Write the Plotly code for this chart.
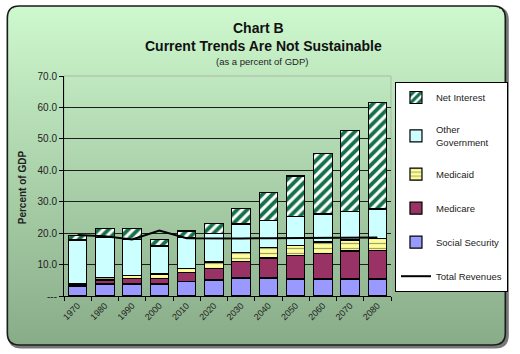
import plotly.graph_objects as go

# ---------------- data (percent of GDP) ----------------
years = ["1970", "1980", "1990", "2000", "2010", "2020",
         "2030", "2040", "2050", "2060", "2070", "2080"]
social_security = [3.2, 3.8, 3.8, 3.8, 4.5, 5.1, 5.7, 5.7, 5.4, 5.4, 5.4, 5.4]
medicare = [0.5, 1.3, 1.8, 1.8, 3.1, 3.6, 5.4, 6.4, 7.4, 8.2, 8.9, 9.2]
medicaid = [0.2, 0.7, 0.8, 1.4, 1.1, 2.1, 2.8, 3.3, 3.3, 3.6, 3.5, 3.7]
other_government = [13.9, 12.9, 11.6, 8.9, 10.0, 9.1, 9.0, 8.6, 9.1, 8.9, 9.1, 9.4]
net_interest = [1.4, 2.8, 3.5, 2.1, 2.0, 3.1, 5.0, 9.0, 13.0, 19.2, 25.8, 33.9]
total_revenues = [19.4, 19.0, 18.0, 20.8, 18.4, 18.3, 18.3, 18.4, 18.4, 18.5, 18.5, 18.6]
y_ticks = [0, 10, 20, 30, 40, 50, 60, 70]
y_tick_text = ["---", "10.0", "20.0", "30.0", "40.0", "50.0", "60.0", "70.0"]

# ---------------- layout geometry (pixels) ----------------
W, H = 520, 354
L, R, T, B = 64, 393, 76, 296
FONT = "Arial, Liberation Sans, sans-serif"


def px(x):
    return (x - L) / (R - L)


def py(y):
    return (B - y) / (B - T)


fig = go.Figure()
BW = 0.68
edge = dict(color="black", width=1.2)

fig.add_bar(x=years, y=social_security, name="Social Security", width=BW,
            marker=dict(color="#9999ff", line=edge), legendrank=5,
            legendgroup="ss")
fig.add_bar(x=years, y=medicare, name="Medicare", width=BW,
            marker=dict(color="#993366", line=edge), legendrank=4,
            legendgroup="mc")
fig.add_bar(x=years, y=medicaid, name="Medicaid", width=BW,
            marker=dict(color="#ffff99", line=edge,
                        pattern=dict(shape="-", fgcolor="#444444", bgcolor="#ffff99",
                                     size=5, solidity=0.25)),
            legendrank=3, legendgroup="md")
fig.add_bar(x=years, y=other_government, name="Other<br>Government", width=BW,
            marker=dict(color="#ccffff", line=edge), legendrank=2,
            legendgroup="og")
fig.add_bar(x=years, y=net_interest, name="Net Interest", width=BW,
            marker=dict(color="white", line=edge,
                        pattern=dict(shape="/", fgcolor="#137048", bgcolor="white",
                                     fgopacity=1, size=7, solidity=0.55)),
            legendrank=1, legendgroup="ni")
fig.add_scatter(x=years, y=total_revenues, name="Total Revenues", mode="lines",
                line=dict(color="black", width=2), legendrank=6,
                legendgroup="tr")

# ---------------- background frame (gradient rounded box) ----------------
shapes = []
fx0, fy0, fx1, fy1, rad = 7, 6, 508, 345, 12


def rounded_path(x0, y0, x1, y1, r):
    return (f"M {px(x0 + r)},{py(y0)} L {px(x1 - r)},{py(y0)} "
            f"Q {px(x1)},{py(y0)} {px(x1)},{py(y0 + r)} "
            f"L {px(x1)},{py(y1 - r)} Q {px(x1)},{py(y1)} {px(x1 - r)},{py(y1)} "
            f"L {px(x0 + r)},{py(y1)} Q {px(x0)},{py(y1)} {px(x0)},{py(y1 - r)} "
            f"L {px(x0)},{py(y0 + r)} Q {px(x0)},{py(y0)} {px(x0 + r)},{py(y0)} Z")


# shadow
shapes.append(dict(type="path", xref="paper", yref="paper", layer="below",
                   path=rounded_path(fx0 + 2, fy0 + 2, fx1 + 2, fy1 + 2, rad),
                   line=dict(color="#777777", width=3), fillcolor="#777777"))
top_c = (206, 248, 206)
bot_c = (136, 172, 136)
step = 3
y = fy0
while y < fy1:
    y2 = min(y + step, fy1)
    yc = (y + y2) / 2
    t = (yc - fy0) / (fy1 - fy0)
    c = tuple(round(top_c[i] + (bot_c[i] - top_c[i]) * t) for i in range(3))
    inset = 0
    if yc < fy0 + rad:
        d = fy0 + rad - yc
        inset = rad - (max(rad * rad - d * d, 0)) ** 0.5
    elif yc > fy1 - rad:
        d = yc - (fy1 - rad)
        inset = rad - (max(rad * rad - d * d, 0)) ** 0.5
    shapes.append(dict(type="rect", xref="paper", yref="paper", layer="below",
                       x0=px(fx0 + inset), x1=px(fx1 - inset),
                       y0=py(y2 + 0.5), y1=py(y),
                       line=dict(width=0), fillcolor=f"rgb{c}"))
    y = y2
shapes.append(dict(type="path", xref="paper", yref="paper", layer="below",
                   path=rounded_path(fx0, fy0, fx1, fy1, rad),
                   line=dict(color="#1a1a1a", width=1.6), fillcolor="rgba(0,0,0,0)"))
# plot-area border (light)
shapes.append(dict(type="rect", xref="paper", yref="paper", layer="below",
                   x0=0, x1=1, y0=0, y1=1,
                   line=dict(color="#a9b9a9", width=1), fillcolor="rgba(0,0,0,0)"))

ann = dict(xref="paper", yref="paper", showarrow=False, xanchor="center",
           yanchor="middle")
annotations = [
    dict(ann, text="<b>Chart B</b>", x=px(260), y=py(28),
         font=dict(family=FONT, size=14, color="#111111")),
    dict(ann, text="<b>Current Trends Are Not Sustainable</b>", x=px(265), y=py(46),
         font=dict(family=FONT, size=14, color="#111111")),
    dict(ann, text="(as a percent of GDP)", x=px(263), y=py(62),
         font=dict(family=FONT, size=9.5, color="#222222")),
    dict(ann, text="<b>Percent of GDP</b>", x=px(22), y=py(187), textangle=-90,
         font=dict(family=FONT, size=10, color="#222222")),
]

fig.update_layout(
    width=W, height=H,
    margin=dict(l=L, r=W - R, t=T, b=H - B, pad=0),
    paper_bgcolor="white",
    plot_bgcolor="rgba(0,0,0,0)",
    barmode="stack",
    bargap=0.32,
    shapes=shapes,
    annotations=annotations,
    font=dict(family=FONT, size=9, color="#222222"),
    legend=dict(x=px(397), y=py(82), xanchor="left", yanchor="top",
                bgcolor="white", bordercolor="black", borderwidth=1,
                traceorder="grouped", tracegroupgap=15,
                font=dict(family=FONT, size=9.5, color="#222222"),
                itemwidth=30),
    showlegend=True,
)
fig.update_xaxes(type="category", tickangle=-45, ticks="outside", ticklen=4,
                 tickson="boundaries", tickcolor="black", showline=True,
                 linecolor="black", linewidth=1, showgrid=False,
                 tickfont=dict(family=FONT, size=9, color="#222222"))
fig.update_yaxes(range=[0, 70], tickvals=y_ticks, ticktext=y_tick_text,
                 ticks="outside", ticklen=4, tickcolor="black", showline=True,
                 linecolor="black", linewidth=1, showgrid=True,
                 gridcolor="#1e1e1e", gridwidth=1, zeroline=False,
                 tickfont=dict(family=FONT, size=10, color="#222222"))

fig.write_html("out.html")
